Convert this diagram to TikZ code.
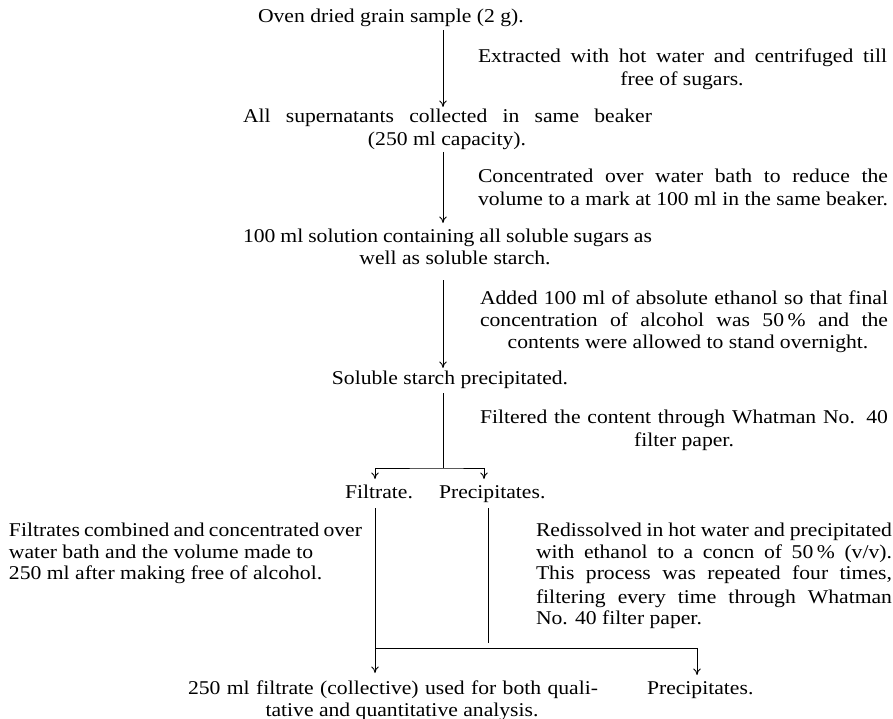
\documentclass[tikz,border=0pt]{standalone}
\usepackage{fontspec}
\setmainfont{Liberation Serif}
\usepackage{graphicx}
\usetikzlibrary{arrows.meta,calc}
\newcommand\jl[2]{\scalebox{1.11}[1]{\makebox[\dimexpr #1pt*100/111\relax][s]{#2}}}
\newcommand\nl[1]{\scalebox{1.11}[1]{#1}}
\tikzset{
  txt/.style={inner sep=0pt, outer sep=0pt, text height=14pt, text depth=4pt,
    font=\fontsize{19.5}{22}\selectfont},
  tl/.style={txt, anchor=base west},
  tc/.style={txt, anchor=base},
  conn/.style={line width=0.9pt, draw=black},
  arr/.style={conn, -{To[length=6.5pt,width=7.5pt]}},
  darr/.style={conn, {To[length=6.5pt,width=7.5pt]}-{To[length=6.5pt,width=7.5pt]}}
}
\begin{document}
\begin{tikzpicture}[x=1pt,y=-1pt]
\fill[white] (0,0) rectangle (893,719);
\useasboundingbox (0,0) rectangle (893,719);
% texts
\node[tl] (oven) at (258,23) {\nl{Oven dried grain sample (2 g).}};
\node[tl] (ext1) at (478,63) {\jl{409}{Extracted with hot water and centrifuged till}};
\node[tc] (ext2) at (682,86) {\nl{free of sugars.}};
\node[tl] (sup1) at (243,123) {\jl{409}{All supernatants collected in same beaker}};
\node[tc] (sup2) at (447,146) {\nl{(250 ml capacity).}};
\node[tl] (con1) at (478,183) {\jl{410}{Concentrated over water bath to reduce the}};
\node[tl] (con2) at (478,206) {\jl{410}{volume to a mark at 100 ml in the same beaker.}};
\node[tl] (sol1) at (243,243) {\jl{409}{100 ml solution containing all soluble sugars as}};
\node[tc] (sol2) at (455,264) {\nl{well as soluble starch.}};
\node[tl] (add1) at (480,304) {\jl{408}{Added 100 ml of absolute ethanol so that final}};
\node[tl] (add2) at (480,326) {\jl{408}{concentration of alcohol was 50\,\% and the}};
\node[tc] (add3) at (688,348) {\nl{contents were allowed to stand overnight.}};
\node[tc] (ssp) at (450,384) {\nl{Soluble starch precipitated.}};
\node[tl] (fil1) at (480,423) {\jl{408}{Filtered the content through Whatman No. 40}};
\node[tc] (fil2) at (684,446) {\nl{filter paper.}};
\node[tl] (filt) at (345,498) {\nl{Filtrate.}};
\node[tl] (prec) at (439,498) {\nl{Precipitates.}};
\node[tl] (lb1) at (9,536) {\jl{353}{Filtrates combined and concentrated over}};
\node[tl] (lb2) at (9,558) {\nl{water bath and the volume made to}};
\node[tl] (lb3) at (9,579) {\nl{250 ml after making free of alcohol.}};
\node[tl] (rb1) at (536,536) {\jl{356}{Redissolved in hot water and precipitated}};
\node[tl] (rb2) at (536,558) {\jl{356}{with ethanol to a concn of 50\,\% (v/v).}};
\node[tl] (rb3) at (536,579) {\jl{356}{This process was repeated four times,}};
\node[tl] (rb4) at (536,603) {\jl{356}{filtering every time through Whatman}};
\node[tl] (rb5) at (536,624) {\nl{No. 40 filter paper.}};
\node[tl] (fin1) at (188,694) {\jl{410}{250 ml filtrate (collective) used for both quali-}};
\node[tc] (fin2) at (402,716) {\nl{tative and quantitative analysis.}};
\node[tl] (precB) at (647,694) {\nl{Precipitates.}};
% coordinates
\coordinate (cx) at (443,0);
\coordinate (j) at (443,468);
\coordinate (fx) at (375,0);
\coordinate (px) at (484,0);
\coordinate (pe) at (488,643);
\coordinate (bl) at (375,648);
\coordinate (br) at (697,648);
% connectors
\draw[arr] ([yshift=-3pt]oven.south -| cx) -- ([yshift=2pt]sup1.north -| cx);
\draw[arr] ([yshift=-2pt]sup2.south -| cx) -- ([yshift=6pt]sol1.north -| cx);
\draw[arr] ([yshift=-12pt]sol2.south -| cx) -- ([yshift=2pt]ssp.north -| cx);
\draw[conn] ([yshift=-5pt]ssp.south -| cx) -- (j);
\draw[darr] ([yshift=5pt]filt.north -| fx) |- (j) -| ([yshift=5pt]prec.north -| px);
\draw[arr] ([yshift=-6pt]filt.south -| fx) -- ([yshift=7pt]fin1.north -| fx);
\draw[conn] ([yshift=-6pt]prec.south -| pe) -- (pe);
\draw[arr] (bl) -- (br) -- ([yshift=5pt]precB.north -| br);
\end{tikzpicture}
\end{document}
